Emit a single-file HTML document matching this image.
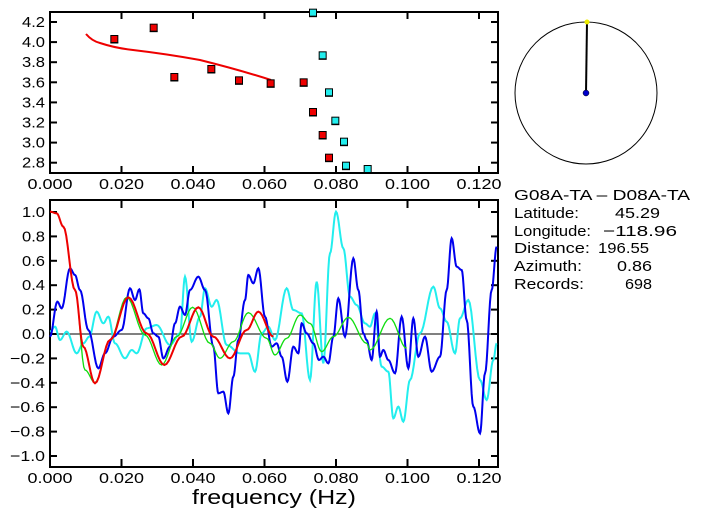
<!DOCTYPE html>
<html><head><meta charset="utf-8"><style>
body{margin:0;background:#fff;width:703px;height:520px;overflow:hidden}
svg{display:block}
text{font-family:"Liberation Sans",sans-serif;fill:#000}
</style></head><body>
<svg id="s" width="703" height="520" viewBox="0 0 703 520" xmlns="http://www.w3.org/2000/svg">
<rect width="703" height="520" fill="#fff"/>
<rect x="50" y="12" width="448" height="161" fill="none" stroke="#000" stroke-width="2"/>
<g id="topticks" stroke="#000" stroke-width="2"></g>
<g font-size="15" id="toply"></g>
<g font-size="15" id="toplx"></g>
<path fill="none" stroke="#e00" stroke-width="2" d="M86,34 Q92,41 100,43 Q115,48 133,50 Q167,54 200,60 Q240,70 271,80"/>
<g id="marks"></g>
<rect x="50" y="200" width="448" height="267" fill="none" stroke="#000" stroke-width="2"/>
<line x1="50" y1="334" x2="498" y2="334" stroke="#000" stroke-width="1"/>
<g id="botticks" stroke="#000" stroke-width="2"></g>
<g font-size="15" id="botly"></g>
<g font-size="15" id="botlx"></g>
<text x="192" y="504" font-size="20" textLength="164" lengthAdjust="spacingAndGlyphs">frequency (Hz)</text>
<g id="curves" transform="translate(0,190) scale(0.33333)" fill="none" stroke-width="6"></g>
<circle cx="586" cy="93" r="71" fill="none" stroke="#000" stroke-width="1"/>
<line x1="586" y1="93" x2="587" y2="22" stroke="#000" stroke-width="2"/>
<circle cx="586" cy="93" r="3" fill="#00c" stroke="#000" stroke-width="0.5"/>
<circle cx="587" cy="22" r="2.5" fill="#ee0"/>
<g font-size="15" lengthAdjust="spacingAndGlyphs">
<text x="514" y="200" textLength="176" lengthAdjust="spacingAndGlyphs">G08A-TA  –  D08A-TA</text>
<text x="514" y="218" textLength="65" lengthAdjust="spacingAndGlyphs">Latitude:</text><text x="615" y="218" textLength="45" lengthAdjust="spacingAndGlyphs">45.29</text>
<text x="514" y="236" textLength="77" lengthAdjust="spacingAndGlyphs">Longitude:</text><text x="603" y="236" textLength="74" lengthAdjust="spacingAndGlyphs">−118.96</text>
<text x="514" y="253" textLength="76" lengthAdjust="spacingAndGlyphs">Distance:</text><text x="598" y="253" textLength="51" lengthAdjust="spacingAndGlyphs">196.55</text>
<text x="514" y="271" textLength="68" lengthAdjust="spacingAndGlyphs">Azimuth:</text><text x="617" y="271" textLength="35" lengthAdjust="spacingAndGlyphs">0.86</text>
<text x="514" y="289" textLength="70" lengthAdjust="spacingAndGlyphs">Records:</text><text x="625" y="289" textLength="27" lengthAdjust="spacingAndGlyphs">698</text>
</g>
</svg>
<script>
var NS="http://www.w3.org/2000/svg";
function el(p,t,a,txt){var e=document.createElementNS(NS,t);for(var k in a)e.setAttribute(k,a[k]);if(txt)e.textContent=txt;document.getElementById(p).appendChild(e);}
var labs=["0.000","0.020","0.040","0.060","0.080","0.100","0.120"];
for(var i=0;i<7;i++){var x=50+i*71.5;
 el("topticks","line",{x1:x,y1:12,x2:x,y2:19});el("topticks","line",{x1:x,y1:173,x2:x,y2:166});
 el("botticks","line",{x1:x,y1:200,x2:x,y2:208});el("botticks","line",{x1:x,y1:467,x2:x,y2:459});
 var a={x:x-22.5,y:189,textLength:45,lengthAdjust:"spacingAndGlyphs"};
 el("toplx","text",a,labs[i]);a.y=483;el("botlx","text",a,labs[i]);}
for(var i=0;i<8;i++){var v=4.2-0.2*i,y=22+i*20.1;
 el("topticks","line",{x1:50,y1:y,x2:57,y2:y});el("topticks","line",{x1:498,y1:y,x2:491,y2:y});
 el("toply","text",{x:22,y:y+5,textLength:23,lengthAdjust:"spacingAndGlyphs"},v.toFixed(1));}
for(var i=0;i<11;i++){var v=1-0.2*i,y=212+i*24.4;
 el("botticks","line",{x1:50,y1:y,x2:57,y2:y});el("botticks","line",{x1:498,y1:y,x2:491,y2:y});
 var neg=v<-1e-9,s=(Math.abs(v)<1e-9?"0.0":(neg?"−":"")+Math.abs(v).toFixed(1));
 el("botly","text",{x:neg?10:22,y:y+5,textLength:neg?35:23,lengthAdjust:"spacingAndGlyphs"},s);}
var red=[[343,117],[461,83],[523,231],[634,207],[717,241],[812,250],[911,247],[939,336],[968,405],[987,473]];
var cy=[[939,38],[968,166],[987,277],[1006,362],[1032,425],[1038,497],[1103,507]];
function mk(a,c){a.forEach(function(p){var x=p[0]/3,y=p[1]/3;
 el("marks","line",{x1:x-4,y1:y+4,x2:x+4,y2:y+4,stroke:"#000","stroke-width":1});
 el("marks","rect",{x:x-3.5,y:y-3.5,width:7,height:7,fill:c,stroke:"#000","stroke-width":1});});}
mk(red,"#e00");mk(cy,"#2ee");
function path(pts){var d="M"+pts[0][0]+","+pts[0][1];
 for(var i=1;i<pts.length;i++){var a=pts[i-1],b=pts[i];for(var s=1;s<=8;s++){var t=s/8,w=(1-Math.cos(Math.PI*t))/2;
 d+=" L"+(a[0]+(b[0]-a[0])*t).toFixed(1)+","+(a[1]+(b[1]-a[1])*w).toFixed(1);}}return d;}
var cyan=[[150,425],[165,410],[180,450],[200,425],[230,490],[250,460],[268,440],[290,365],[310,400],[325,380],[345,460],[375,505],[395,480],[410,490],[440,415],[470,405],[510,465],[540,430],[555,260],[575,455],[600,380],[615,295],[635,350],[650,330],[680,465],[720,490],[745,490],[765,545],[785,430],[805,410],[825,450],[860,295],[880,360],[905,370],[930,570],[950,275],[970,520],[990,190],[1008,65],[1030,175],[1050,320],[1070,345],[1095,400],[1110,410],[1125,370],[1145,530],[1165,545],[1180,685],[1195,650],[1210,695],[1230,570],[1260,430],[1300,290],[1320,355],[1340,395],[1365,490],[1380,385],[1405,330],[1440,570],[1460,630],[1480,510],[1490,460]];
var blue=[[150,440],[172,335],[185,355],[210,235],[225,255],[240,300],[265,420],[295,535],[315,490],[340,440],[365,420],[390,295],[405,330],[418,298],[430,370],[445,385],[460,430],[475,440],[490,505],[510,470],[525,400],[540,350],[555,375],[570,300],[595,260],[615,300],[640,470],[655,610],[670,605],[685,670],[700,560],[715,450],[735,330],[745,255],[760,280],[775,235],[795,380],[815,470],[830,460],[845,500],[862,575],[880,470],[895,490],[905,400],[920,430],[940,460],[957,510],[970,500],[985,520],[1000,440],[1015,325],[1035,440],[1060,205],[1075,300],[1090,430],[1100,450],[1115,510],[1130,365],[1140,500],[1150,480],[1165,510],[1185,550],[1205,380],[1225,535],[1240,385],[1255,500],[1275,440],[1295,545],[1320,500],[1340,300],[1355,145],[1370,230],[1385,240],[1400,390],[1420,650],[1440,730],[1455,550],[1475,300],[1490,170]];
var green=[[150,65],[170,70],[190,110],[225,300],[255,540],[285,578],[330,450],[380,322],[435,435],[485,525],[530,440],[578,352],[630,460],[660,505],[700,455],[745,368],[800,445],[825,495],[860,445],[900,375],[930,400],[965,485],[1000,440],[1045,382],[1100,460],[1110,480],[1170,385],[1220,475]];
var redc=[[150,65],[170,70],[190,110],[225,300],[250,470],[285,580],[330,450],[385,322],[440,430],[493,525],[545,440],[595,352],[640,440],[690,505],[740,420],[775,365],[820,440]];
el("curves","path",{d:path(cyan),stroke:"#2ee"});
el("curves","path",{d:path(blue),stroke:"#00e"});
el("curves","path",{d:path(green),stroke:"#1d1","stroke-width":4});
el("curves","path",{d:path(redc),stroke:"#e00"});
</script>
</body></html>
